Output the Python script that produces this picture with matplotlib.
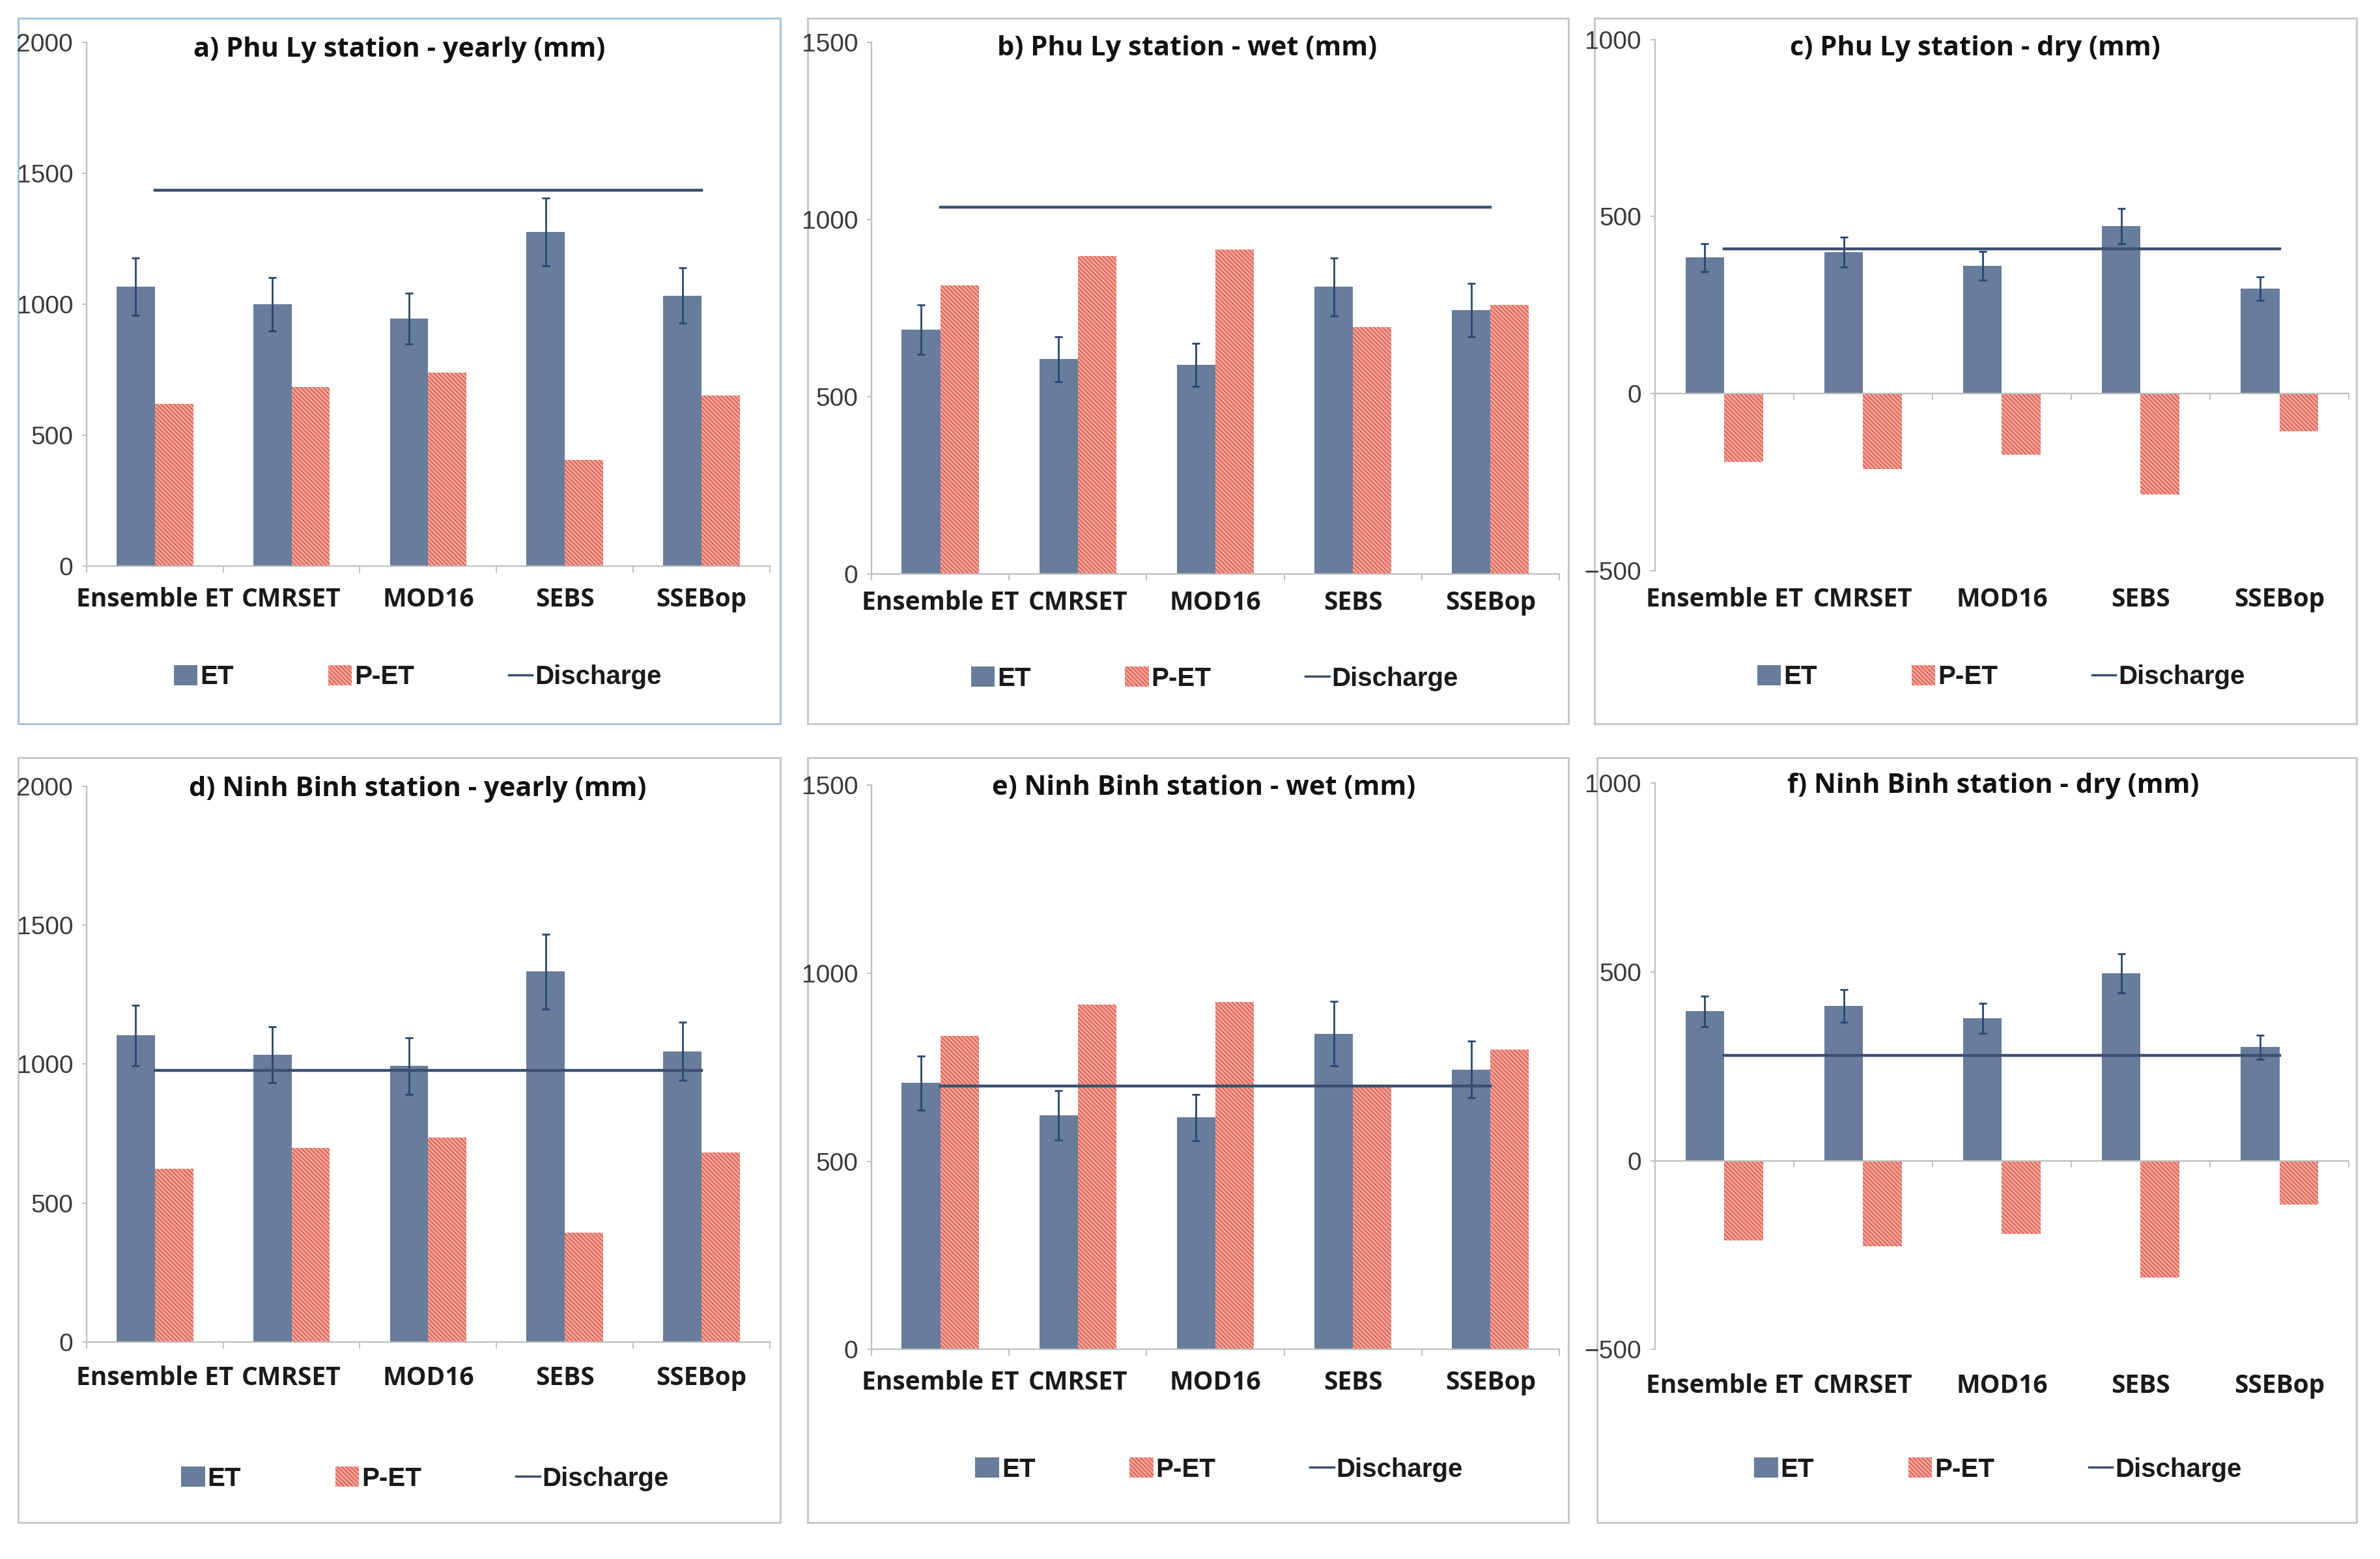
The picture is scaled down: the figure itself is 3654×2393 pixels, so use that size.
import matplotlib
matplotlib.use("Agg")
import matplotlib.pyplot as plt
import matplotlib.transforms as mtransforms
from matplotlib.patches import Patch, Rectangle
from matplotlib.lines import Line2D

# ---------------- data ----------------
categories = ['Ensemble ET', 'CMRSET', 'MOD16', 'SEBS', 'SSEBop']

titles = ['a) Phu Ly station - yearly (mm)', 'b) Phu Ly station - wet (mm)',
          'c) Phu Ly station - dry (mm)', 'd) Ninh Binh station - yearly (mm)',
          'e) Ninh Binh station - wet (mm)', 'f) Ninh Binh station - dry (mm)']

et_a = [1067, 1000, 945, 1276, 1034]
err_a = [110, 102, 97, 129, 106]
pet_a = [619, 685, 740, 407, 651]
dis_a = 1437

et_b = [690, 606, 590, 810, 744]
err_b = [70, 63, 60, 82, 75]
pet_b = [815, 898, 915, 696, 760]
dis_b = 1036

et_c = [384, 400, 361, 473, 296]
err_c = [40, 42, 40, 50, 33]
pet_c = [-192, -212, -173, -285, -107]
dis_c = 408

et_d = [1103, 1033, 993, 1333, 1046]
err_d = [110, 101, 102, 135, 104]
pet_d = [624, 698, 737, 394, 681]
dis_d = 978

et_e = [708, 622, 616, 839, 744]
err_e = [72, 65, 62, 86, 76]
pet_e = [834, 917, 924, 700, 796]
dis_e = 700

et_f = [396, 410, 378, 497, 301]
err_f = [41, 43, 40, 52, 32]
pet_f = [-211, -226, -193, -310, -116]
dis_f = 279

yticks_yearly = [0, 500, 1000, 1500, 2000]
yticks_wet = [0, 500, 1000, 1500]
yticks_dry = [-500, 0, 500, 1000]

legend_labels = ['ET', 'P-ET', 'Discharge']

# ---------------- style ----------------
ET_COLOR = '#687c9c'
PET_FACE = '#f4a99c'
PET_HATCH = '#dc5a50'
DIS_COLOR = '#3c4f70'
ERR_COLOR = '#2b4670'
AXIS_GRAY = '#bfbfbf'

plt.rcParams['hatch.linewidth'] = 1.3
W, H = 3655, 2393
fig = plt.figure(figsize=(W / 100, H / 100), dpi=100)
fig.patch.set_facecolor('white')

SW, SH = 1568.0, 1027.0
def fx(x):
    return x / SW
def fy(y):
    return 1 - y / SH

TICK_FONT = ['Liberation Sans Narrow', 'Liberation Sans', 'DejaVu Sans']
CAT_FONT = ['Open Sans', 'Lato', 'DejaVu Sans']
LEG_FONT = ['Liberation Sans', 'DejaVu Sans']

panels = [
    dict(et=et_a, err=err_a, pet=pet_a, dis=dis_a, yt=yticks_yearly,
         l=57, r=507, t=28, b=373, title=(263, 33), caty=395, leg=(275, 446),
         frame=(12, 12, 514, 477), fc='#a8c3df'),
    dict(et=et_b, err=err_b, pet=pet_b, dis=dis_b, yt=yticks_wet,
         l=574, r=1027, t=28, b=378, title=(782, 32), caty=397, leg=(800, 447),
         frame=(532, 12, 1033, 477), fc='#c9c9c9'),
    dict(et=et_c, err=err_c, pet=pet_c, dis=dis_c, yt=yticks_dry,
         l=1090, r=1547, t=26, b=376, title=(1301, 32), caty=395, leg=(1318, 446),
         frame=(1050, 12, 1552, 477), fc='#c9c9c9'),
    dict(et=et_d, err=err_d, pet=pet_d, dis=dis_d, yt=yticks_yearly,
         l=57, r=507, t=518, b=884, title=(275, 520), caty=908, leg=(280, 974),
         frame=(12, 499, 514, 1003), fc='#c9c9c9'),
    dict(et=et_e, err=err_e, pet=pet_e, dis=dis_e, yt=yticks_wet,
         l=574, r=1027, t=517, b=889, title=(793, 519), caty=911, leg=(803, 968),
         frame=(532, 499, 1033, 1003), fc='#c9c9c9'),
    dict(et=et_f, err=err_f, pet=pet_f, dis=dis_f, yt=yticks_dry,
         l=1090, r=1547, t=516, b=889, title=(1313, 518), caty=913, leg=(1316, 968),
         frame=(1052, 499, 1552, 1003), fc='#c9c9c9'),
]

bw = 0.28
x = list(range(len(categories)))
HATCH = '\\\\\\\\\\'

for i, p in enumerate(panels):
    x0, y0, x1, y1 = p['frame']
    fig.add_artist(Rectangle((fx(x0), fy(y1)), fx(x1) - fx(x0), fy(y0) - fy(y1),
                             transform=fig.transFigure, fill=False,
                             edgecolor=p['fc'], linewidth=2.2, zorder=0))

    ax = fig.add_axes([fx(p['l']), fy(p['b']), fx(p['r']) - fx(p['l']),
                       (p['b'] - p['t']) / SH])
    ax.set_xlim(-0.5, 4.5)
    ax.set_ylim(min(p['yt']), max(p['yt']))

    xe = [k - bw / 2 for k in x]
    xp = [k + bw / 2 for k in x]
    ax.bar(xe, p['et'], width=bw, color=ET_COLOR, zorder=2)
    ax.bar(xp, p['pet'], width=bw, facecolor=PET_FACE, edgecolor=PET_HATCH,
           hatch=HATCH, linewidth=0, zorder=2)
    ax.errorbar(xe, p['et'], yerr=p['err'], fmt='none', ecolor=ERR_COLOR,
                elinewidth=2.0, capsize=4, capthick=2.0, zorder=3)
    ax.plot([x[0], x[-1]], [p['dis'], p['dis']], color=DIS_COLOR,
            linewidth=3.2, zorder=4)

    for s in ['top', 'right']:
        ax.spines[s].set_visible(False)
    ax.spines['left'].set_color(AXIS_GRAY)
    ax.spines['left'].set_linewidth(1.6)
    ax.spines['bottom'].set_color(AXIS_GRAY)
    ax.spines['bottom'].set_linewidth(1.6)
    ax.spines['bottom'].set_position(('data', 0))
    ax.set_xticks([k - 0.5 for k in range(len(categories) + 1)])
    ax.set_xticklabels([])
    ax.tick_params(axis='x', length=7, width=1.4, color=AXIS_GRAY, direction='out')

    ax.set_yticks(p['yt'])
    ax.set_yticklabels([str(v).replace('-', '\u2212') for v in p['yt']])
    ax.tick_params(axis='y', length=5, width=1.4, color=AXIS_GRAY, pad=10,
                   labelsize=28, labelcolor='#3a3a3a')
    for lab in ax.get_yticklabels():
        lab.set_family(TICK_FONT)
    ax.set_facecolor('none')

    trans = mtransforms.blended_transform_factory(ax.transData, fig.transFigure)
    for k, c in enumerate(categories):
        ax.text(k, fy(p['caty']), c, transform=trans, ha='center', va='center',
                fontsize=28, fontweight='bold', family=CAT_FONT, color='#1a1a1a')

    fig.text(fx(p['title'][0]), fy(p['title'][1]), titles[i], ha='center', va='center',
             fontsize=30, fontweight='bold', family=CAT_FONT, color='#111111')

    handles = [Patch(facecolor=ET_COLOR, edgecolor='none'),
               Patch(facecolor=PET_FACE, edgecolor=PET_HATCH, hatch=HATCH, linewidth=0),
               Line2D([0], [0], color=DIS_COLOR, linewidth=2.5)]
    leg = ax.legend(handles, legend_labels, loc='center',
                    bbox_to_anchor=(fx(p['leg'][0]), fy(p['leg'][1])),
                    bbox_transform=fig.transFigure, ncol=3, frameon=False,
                    handlelength=0.9, handleheight=0.8, handletextpad=0.1,
                    columnspacing=3.6,
                    prop=dict(family=LEG_FONT, weight='bold', size=29))
    for t in leg.get_texts():
        t.set_color('#1a1a1a')

fig.savefig('out.png', dpi=100, facecolor='white')
